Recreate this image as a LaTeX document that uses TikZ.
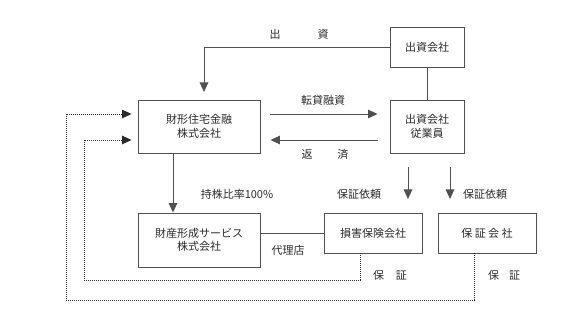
\documentclass[tikz,border=0pt]{standalone}
\usepackage{fontspec}
\newfontfamily\jp{Noto Sans CJK JP}
\usetikzlibrary{arrows.meta}
\definecolor{ln}{HTML}{505050}
\definecolor{tx}{HTML}{2A2A2A}
\tikzset{
  box/.style={draw=ln, line width=0.9pt, align=center, inner sep=0pt, text=tx,
    font=\jp\fontsize{11}{13.5}\selectfont},
  lbl/.style={text=tx, inner sep=0pt, font=\jp\fontsize{11}{13.5}\selectfont},
  conn/.style={draw=ln, line width=0.9pt},
  arr/.style={conn, -{Triangle[width=8.5pt,length=9.5pt]}},
  dotarr/.style={draw=tx, line width=0.9pt, dash pattern=on 1pt off 1pt, -{Triangle[width=8.5pt,length=9.5pt,sep=0pt]}},
}
\begin{document}
\begin{tikzpicture}[x=1pt,y=-1pt]
\useasboundingbox (0,0) rectangle (586,336);
\node[box, minimum width=122pt, minimum height=53pt] (A) at (199,126.5) {財形住宅金融\\株式会社};
\node[box, minimum width=74pt, minimum height=40pt] (B) at (427,47) {出資会社};
\node[box, minimum width=74pt, minimum height=53pt] (C) at (427,126.5) {出資会社\\従業員};
\node[box, minimum width=122pt, minimum height=54pt] (D) at (199,240) {財産形成サービス\\株式会社};
\node[box, minimum width=98pt, minimum height=40pt] (E) at (373,233) {損害保険会社};
\node[box, minimum width=98pt, minimum height=40pt] (F) at (487,233) {保 証 会 社};

\coordinate (g1s) at (408,167);
\coordinate (g1e) at (408,199);
\coordinate (g2s) at (450,167);
\coordinate (g2e) at (450,199);
\coordinate (inA) at (204,92);
\coordinate (d1) at (84,280);
\coordinate (d2) at (66,300);

% connectors
\draw[arr] (B.west) -| (inA);
\draw[arr] ([xshift=10pt,yshift=12.5pt]A.east) -- ([xshift=-12pt,yshift=12.5pt]C.west);
\draw[arr] ([xshift=-12pt,yshift=-13.5pt]C.west) -- ([xshift=10pt,yshift=-13.5pt]A.east);
\draw[conn] (B) -- (C);
\draw[arr] (g1s) -- (g1e);
\draw[arr] (g2s) -- (g2e);
\draw[arr] ([xshift=-26pt]A.south) -- ([xshift=-26pt]D.north);
\draw[conn] ([yshift=7pt]D.east) -- (E.west);
\draw[dotarr] ([xshift=-13pt]E.south) |- (d1) |- ([xshift=-6pt,yshift=-13.5pt]A.west);
\draw[dotarr] ([xshift=-13pt]F.south) |- (d2) |- ([xshift=-6pt,yshift=12.5pt]A.west);

% labels
\node[lbl] (l1) at (299,34) {出\hspace{37pt}資};
\node[lbl] (l2) at (323,100) {転貸融資};
\node[lbl] (l3) at (325,154) {返\hspace{25pt}済};
\node[lbl] (l4) at (237,194) {持株比率100\%};
\node[lbl] (l5) at (359,194) {保証依頼};
\node[lbl] (l6) at (485,194) {保証依頼};
\node[lbl] (l7) at (288,250) {代理店};
\node[lbl] (l8) at (390,275) {保\hspace{12pt}証};
\node[lbl] (l9) at (504,275) {保\hspace{10pt}証};
\end{tikzpicture}
\end{document}
